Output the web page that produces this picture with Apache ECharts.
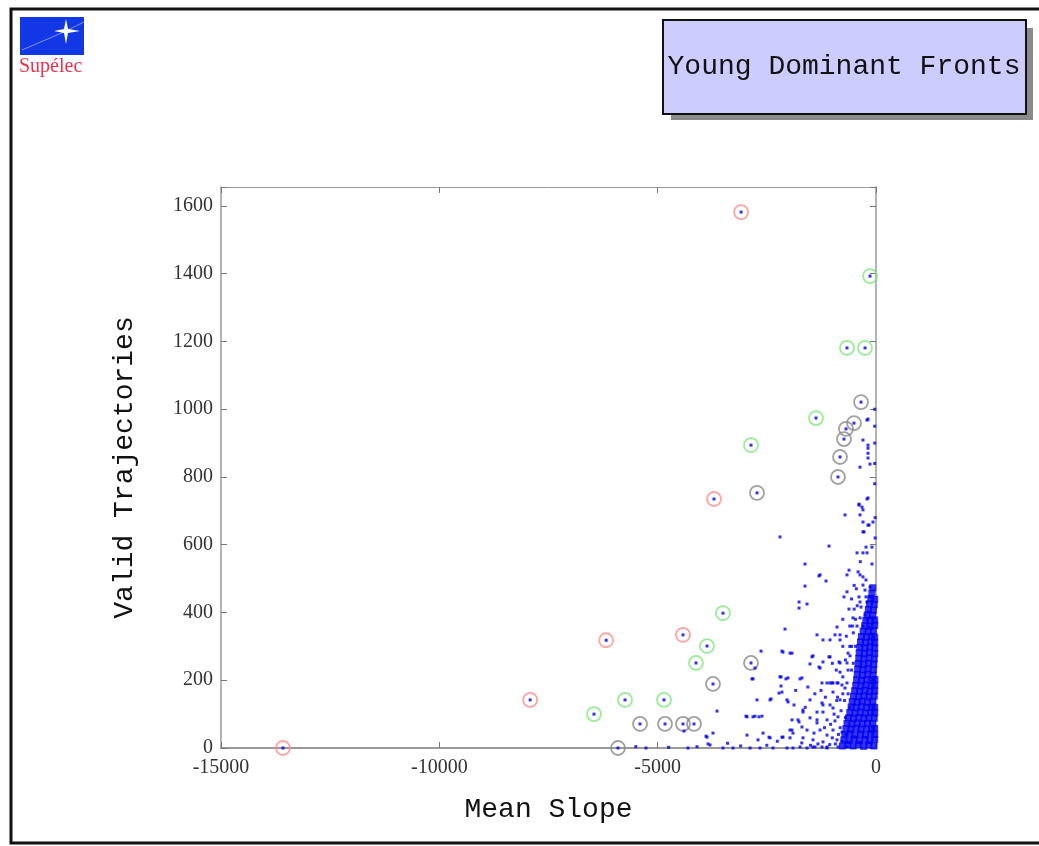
<!DOCTYPE html>
<html>
<head>
<meta charset="utf-8">
<script src="https://cdn.jsdelivr.net/npm/echarts@6/dist/echarts.min.js"></script>
<style>html,body{margin:0;padding:0;background:#fff;}#c{width:1039px;height:846px;}</style>
</head>
<body>
<div id="c"></div>
<script>
// ---- data (Mean Slope, Valid Trajectories) ----
const xTicks = [-15000, -10000, -5000, 0];
const yTicks = [0, 200, 400, 600, 800, 1000, 1200, 1400, 1600];

const redCircled = [[-3090,1582],[-3710,735],[-6180,318],[-4420,334],[-7920,142],[-13580,0]];
const greenCircled = [[-137,1393],[-664,1181],[-252,1181],[-1374,974],[-2862,894],[-3504,398],[-3870,301],[-4122,251],[-5748,142],[-4855,142],[-6458,100]];
const grayCircled = [[-343,1021],[-504,959],[-687,942],[-733,912],[-824,859],[-870,800],[-2725,753],[-2862,251],[-3733,189],[-5404,71],[-4832,71],[-4420,71],[-4168,71],[-5908,0]];

const bluePoints = [
[-2198,623],[-1076,596],[-275,638],[-183,658],[-69,667],[-229,593],[-435,576],[-1626,543],[-1305,508],[-1145,493],[-664,511],[-618,525],[-1626,478],[-1763,431],[-1763,413],[-1580,425],[-664,461],[-733,446],[-2084,351],[-1351,334],[-1214,319],[-893,357],[-939,334],[-824,334],[-2633,286],[-2153,286],[-1969,280],[-1466,269],[-1076,269],[-1511,248],[-1305,239],[-847,254],[-2817,204],[-2175,210],[-2061,204],[-1740,204],[-1122,192],[-1008,192],[-893,192],[-779,186],[-2175,183],[-2221,162],[-2725,142],[-2427,142],[-2015,136],[-1878,127],[-1511,142],[-1214,127],[-3641,109],[-2954,92],[-2817,92],[-2679,92],[-1672,106],[-1351,106],[-1924,83],[-1763,77],[-1351,74],[-3733,44],[-3870,32],[-2588,44],[-2427,30],[-2702,24],[-1969,53],[-1901,44],[-1580,53],[-1420,44],[-4397,50],[-3847,12],[-5267,0],[-4305,0],[-3504,0],[-3275,0],[-2885,0],[-2656,0],[-2359,0],[-2038,0],[-1901,0],[-1580,0],[-1397,3],[-1237,3],[-1122,0],
[-2771,236],[-2840,204],[-2198,210],[-2153,165],[-2404,145],[-2977,94],[-2771,94],[-2611,94],[-3893,35],[-2954,38],[-2450,32],[-2153,32],[-3801,9],
[-389,717],[-298,703],[-710,688],[-366,688],[-298,667],[-160,658],[-298,638],[-92,593],[-298,576],[-206,576],[-92,543],[-1282,511],[-366,511],[-298,505],[-229,496],[-137,475],[-298,481],[-252,466],[-229,446],[-137,446],[-389,446],[-366,431],[-206,431],[-92,431],[-343,416],[-160,401],[-252,393],[-527,384],[-366,384],[-206,378],[-92,384],[-435,360],[-298,360],[-160,357],
[-183,971],[-298,909],[-183,894],[-183,885],[-183,870],[-183,856],[-137,838],[-366,829],[-183,738],[-389,720],[-320,711],[-206,968],[-206,735],
[-1053,319],[-824,319],[-1924,280],[-2130,283],[-1443,272],[-1214,254],[-1053,269],[-824,251],[-664,251],[-595,272],[-824,224],[-1282,236],[-2015,207],[-1695,207],[-1237,192],[-1053,192],[-985,192],[-870,192],[-664,192],[-710,177],[-985,165],[-2038,142],[-1237,133],[-1053,127],[-824,142],[-1672,112],[-1214,106],[-985,118],[-1786,83],[-1511,89],[-1351,83],[-1122,83],[-870,92],[-1924,53],[-1695,62],[-1282,53],[-1122,38],[-985,53],[-779,47],[-1969,30],[-2130,32],[-1672,30],[-1443,24],[-1214,18],[-893,24],[-1740,3],[-1443,3],[-1122,3],[-870,3],[-664,3],
[-30,1000],[-30,950],[-30,900],[-30,840],[-30,780],[-20,680],[-20,620],
[-600,300],[-520,340],[-640,280],[-560,230],[-700,260],[-760,300],[-500,410],[-620,410],[-450,470],[-560,440],[-540,360],[-600,120],[-700,90],[-760,160],[-820,60],[-900,140],[-940,80],[-1000,30],
[-930,12],[-1040,70],[-960,100],[-880,150],[-800,110],[-760,210],[-720,140],[-690,40],[-640,230],[-680,330],[-600,360],[-560,300],[-520,250],[-470,380],[-430,420],[-500,480],[-410,520],[-360,550],[-470,300],[-640,160],[-780,20],[-860,40],[-910,230],[-1000,250],[-760,380],[-1160,150],[-1180,60],[-1260,170],[-1400,160],[-1560,180],[-1620,120],[-1840,170],[-1060,10],[-1330,12],[-1500,8],[-1700,15],[-2260,20],[-2500,8],[-3100,6],[-3400,14],[-4100,4],[-4750,2],[-5500,4]
];

const bluePointsDense = [
[-770,6],[-650,10],[-525,6],[-405,10],[-285,5],[-165,9],[-45,6],
[-735,24],[-615,22],[-500,26],[-380,22],[-255,25],[-140,22],[-30,25],
[-715,40],[-600,42],[-480,38],[-355,41],[-240,38],[-120,42],[-30,40],
[-690,57],[-575,55],[-455,58],[-340,55],[-215,57],[-100,55],[-30,58],
[-665,73],[-550,71],[-430,74],[-315,71],[-195,73],[-80,72],
[-630,89],[-515,87],[-395,90],[-275,87],[-160,89],[-40,88],
[-600,105],[-480,103],[-360,106],[-240,103],[-120,105],[-30,104],
[-570,121],[-455,119],[-335,122],[-215,119],[-100,121],[-30,120],
[-545,137],[-430,135],[-315,138],[-195,135],[-80,137],
[-515,153],[-395,151],[-275,154],[-160,151],[-40,153],
[-490,169],[-375,167],[-255,170],[-140,167],[-30,169],
[-465,185],[-345,183],[-230,186],[-110,183],[-30,185],
[-445,201],[-330,199],[-210,202],[-90,199],[-25,202],
[-430,217],[-310,215],[-190,218],[-70,215],
[-420,233],[-300,231],[-180,234],[-60,231],
[-405,249],[-290,247],[-170,250],[-50,247],
[-395,265],[-275,263],[-160,266],[-40,263],
[-385,281],[-265,279],[-150,282],[-30,279],
[-370,297],[-255,295],[-140,298],[-30,295],
[-355,313],[-240,311],[-120,314],[-30,311],
[-335,329],[-215,327],[-100,330],[-30,327],
[-295,345],[-180,343],[-60,346],
[-260,361],[-140,359],[-30,362],
[-235,377],[-120,375],[-30,378],
[-200,393],[-80,391],
[-175,409],[-60,407],
[-150,425],[-40,423],
[-120,441],[-30,439],
[-95,457],
[-75,473]
];

const allBlue = bluePoints.concat(redCircled, greenCircled, grayCircled);

const chart = echarts.init(document.getElementById('c'), null, {renderer: 'canvas'});

const labelFont = {fontFamily: 'Liberation Serif', fontSize: 20, color: '#333'};
const nameFont = {fontFamily: 'Liberation Mono', fontSize: 28, color: '#111'};
const plainNum = v => String(v);

function circleSeries(data, color) {
  return {
    type: 'scatter', data: data, symbol: 'circle', symbolSize: 14,
    itemStyle: {color: 'rgba(0,0,0,0)', borderColor: color, borderWidth: 1.8},
    silent: true, z: 3
  };
}

chart.setOption({
  animation: false,
  backgroundColor: '#fff',
  grid: {left: 221, right: 163, top: 187, bottom: 98, containLabel: false},
  xAxis: [{
    type: 'value', min: xTicks[0], max: xTicks[xTicks.length - 1], interval: 5000,
    position: 'bottom',
    axisLine: {onZero: false, lineStyle: {color: '#9a9a9a', width: 2}},
    axisTick: {inside: true, length: 6, lineStyle: {color: '#777'}},
    axisLabel: Object.assign({margin: 10, formatter: plainNum}, labelFont),
    splitLine: {show: false},
    name: 'Mean Slope', nameLocation: 'middle', nameGap: 48, nameTextStyle: nameFont
  }, {
    type: 'value', min: xTicks[0], max: xTicks[xTicks.length - 1], interval: 5000,
    position: 'top',
    axisLine: {onZero: false, lineStyle: {color: '#9a9a9a', width: 1}},
    axisTick: {inside: true, length: 6, lineStyle: {color: '#777'}},
    axisLabel: {show: false}, splitLine: {show: false}
  }],
  yAxis: [{
    type: 'value', min: 0, max: 1656, interval: 200,
    position: 'left',
    axisLine: {onZero: false, lineStyle: {color: '#9a9a9a', width: 1.5}},
    axisTick: {inside: true, length: 6, lineStyle: {color: '#777'}},
    axisLabel: Object.assign({margin: 8, formatter: v => (yTicks.indexOf(v) >= 0 ? String(v) : '')}, labelFont),
    splitLine: {show: false},
    name: 'Valid Trajectories', nameLocation: 'middle', nameGap: 82, nameTextStyle: nameFont
  }, {
    type: 'value', min: 0, max: 1656, interval: 200,
    position: 'right',
    axisLine: {onZero: false, lineStyle: {color: '#9a9a9a', width: 1.5}},
    axisTick: {inside: true, length: 6, lineStyle: {color: '#777'}},
    axisLabel: {show: false}, splitLine: {show: false}
  }],
  series: [
    circleSeries(redCircled, '#ff8c8c'),
    circleSeries(greenCircled, '#7ee87e'),
    circleSeries(grayCircled, '#8a8a8a'),
    {type: 'scatter', data: bluePointsDense, symbol: 'rect', symbolSize: 7,
     itemStyle: {color: '#0000f0'}, silent: true, z: 4},
    {type: 'scatter', data: allBlue, symbol: 'rect', symbolSize: 3,
     itemStyle: {color: '#0000f0'}, silent: true, z: 5}
  ],
  graphic: [
    // outer frame
    {type: 'rect', shape: {x: 11, y: 9, width: 1040, height: 834},
     style: {fill: 'none', stroke: '#111', lineWidth: 3}, z: 10},
    // logo
    {type: 'rect', shape: {x: 20, y: 17, width: 64, height: 38}, style: {fill: '#1238e6'}, z: 10},
    {type: 'polyline', shape: {points: [[22, 50], [50, 38], [66, 31], [84, 22]]},
     style: {stroke: 'rgba(255,255,255,0.45)', lineWidth: 1, fill: null}, z: 11},
    {type: 'polygon', shape: {points: [[66, 19], [68, 29], [80, 31], [68, 33], [66, 44], [64, 33], [54, 31], [64, 29]]},
     style: {fill: '#ffffff'}, z: 11},
    {type: 'text', style: {x: 19, y: 57, text: 'Supélec', fill: '#f0304a',
     font: '20px "Liberation Serif"'}, z: 10},
    // title box with shadow
    {type: 'rect', shape: {x: 671, y: 28, width: 362, height: 92}, style: {fill: '#8a8a8a'}, z: 10},
    {type: 'rect', shape: {x: 663, y: 20, width: 363, height: 94},
     style: {fill: '#ccccff', stroke: '#111', lineWidth: 2}, z: 11},
    {type: 'text', style: {x: 844, y: 67, text: 'Young Dominant Fronts', fill: '#111',
     font: '28px "Liberation Mono"', align: 'center', verticalAlign: 'middle'}, z: 12}
  ]
});
</script>
</body>
</html>
